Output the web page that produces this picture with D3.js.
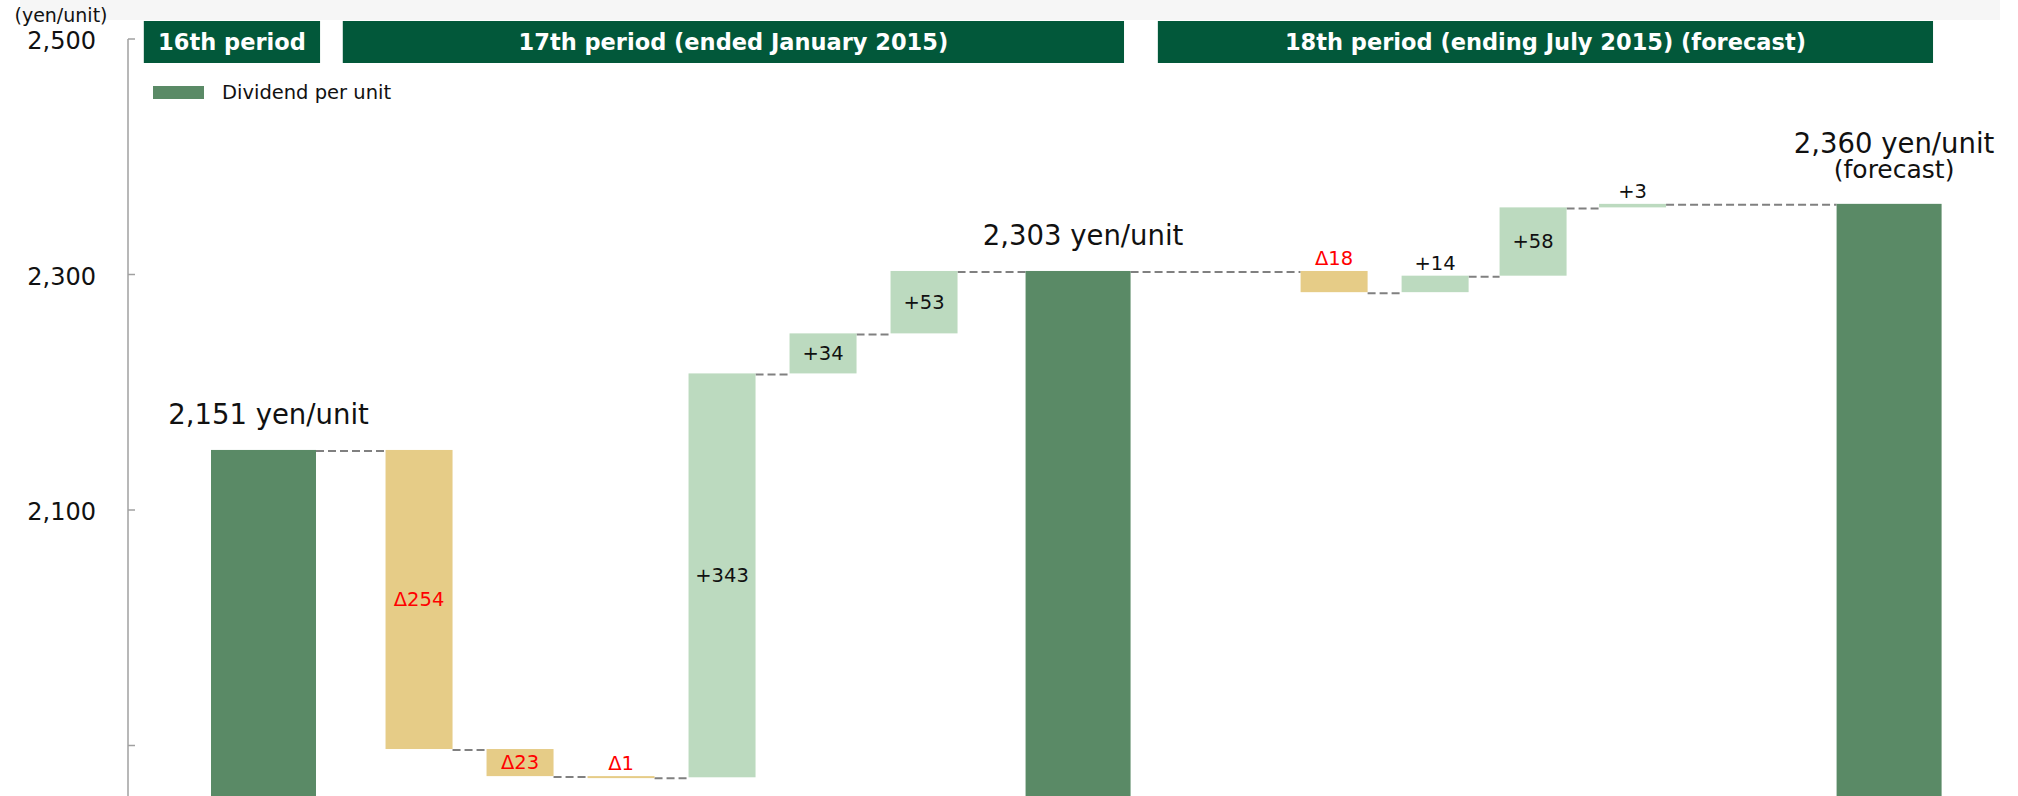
<!DOCTYPE html>
<html>
<head>
<meta charset="utf-8">
<script src="https://cdn.jsdelivr.net/npm/d3@7"></script>
<style>
  html, body { margin: 0; padding: 0; background: #fff; }
  svg { display: block; font-family: "DejaVu Sans", Verdana, sans-serif; }
</style>
</head>
<body>
<div id="chart"></div>
<script>
/* ---- data ---- */
const steps    = ["16th period", "chg 1", "chg 2", "chg 3", "chg 4", "chg 5", "chg 6",
                  "17th period", "chg 7", "chg 8", "chg 9", "chg 10", "18th period"];
const values   = [2151, -254, -23, -1, 343, 34, 53, 2303, -18, 14, 58, 3, 2360];
const isTotal  = [true, false, false, false, false, false, false, true, false, false, false, false, true];
const totalLabels = [["2,151 yen/unit"], ["2,303 yen/unit"], ["2,360 yen/unit", "(forecast)"]];
const periodHeaders = ["16th period", "17th period (ended January 2015)", "18th period (ending July 2015) (forecast)"];
const tickValues = [1900, 2100, 2300, 2500];
const tickLabels = ["", "2,100", "2,300", "2,500"];
const legendLabel = "Dividend per unit";
const unitLabel = "(yen/unit)";

/* ---- layout ---- */
const width = 2018, height = 796;
const C = {
  total: "#5a8a66", down: "#e6cc87", up: "#bcdabf",
  header: "#02583a", red: "#ff0000", dash: "#808080", axis: "#a0a0a0"
};

// spacing between bar slots (half-step units)
const slotGap = [3.08, 2, 2, 2, 2, 2, 3.05, 5.07, 2, 1.94, 1.97, 5.08];
const slots = [0];
slotGap.forEach(g => slots.push(slots[slots.length - 1] + g));

const x = d3.scaleLinear().domain([0, 1]).range([263.5, 314]);
const y = d3.scaleLinear().domain([2100, 2500]).range([510, 39]);
const totalW = 105, deltaW = 67;

/* compute waterfall extents */
let level = 0;
const bars = steps.map((s, i) => {
  const v = values[i];
  let b;
  if (isTotal[i]) {
    b = { key: s, total: true, y0: null, y1: v, value: v };
    level = v;
  } else {
    b = { key: s, total: false, y0: level, y1: level + v, value: v };
    level += v;
  }
  b.cx = x(slots[i]);
  b.w = b.total ? totalW : deltaW;
  b.end = level;
  return b;
});

const svg = d3.select("#chart").append("svg")
  .attr("width", width).attr("height", height);

// faint band at the very top
svg.append("rect")
  .attr("x", 20).attr("y", 0).attr("width", 1980).attr("height", 20)
  .attr("fill", "#f6f6f6");

/* period headers (spans in slot units) */
const headerSpans = [[-2.37, 1.12], [1.57, 17.04], [17.71, 33.06]];
const hdr = svg.append("g");
periodHeaders.forEach((t, i) => {
  const [a, b] = headerSpans[i];
  hdr.append("rect")
    .attr("x", x(a)).attr("y", 21)
    .attr("width", x(b) - x(a)).attr("height", 42)
    .attr("fill", C.header);
  hdr.append("text")
    .attr("x", (x(a) + x(b)) / 2).attr("y", 42)
    .attr("text-anchor", "middle").attr("dominant-baseline", "central")
    .attr("fill", "#fff").attr("font-weight", "bold").attr("font-size", 22.5)
    .text(t);
});

/* y axis */
const axisX = 128;
svg.append("line")
  .attr("x1", axisX).attr("x2", axisX)
  .attr("y1", y(2500)).attr("y2", height)
  .attr("stroke", C.axis).attr("stroke-width", 1.5);

const ticks = svg.append("g");
tickValues.forEach((v, i) => {
  ticks.append("line")
    .attr("x1", axisX).attr("x2", axisX + 7)
    .attr("y1", y(v)).attr("y2", y(v))
    .attr("stroke", C.axis).attr("stroke-width", 1.5);
  if (tickLabels[i]) {
    ticks.append("text")
      .attr("x", 96).attr("y", y(v) + 2)
      .attr("text-anchor", "end").attr("dominant-baseline", "central")
      .attr("font-size", 24).attr("fill", "#111")
      .text(tickLabels[i]);
  }
});

svg.append("text")
  .attr("x", 61).attr("y", 22)
  .attr("text-anchor", "middle")
  .attr("font-size", 19).attr("fill", "#111")
  .text(unitLabel);

/* legend */
svg.append("rect")
  .attr("x", 153).attr("y", 86).attr("width", 51).attr("height", 13)
  .attr("fill", C.total);
svg.append("text")
  .attr("x", 222).attr("y", 99)
  .attr("font-size", 19.5).attr("fill", "#111")
  .text(legendLabel);

/* dashed connectors */
const conn = svg.append("g");
bars.slice(0, -1).forEach((b, i) => {
  const n = bars[i + 1];
  conn.append("line")
    .attr("x1", b.cx + b.w / 2).attr("x2", n.cx - n.w / 2)
    .attr("y1", y(b.end) + 1).attr("y2", y(b.end) + 1)
    .attr("stroke", C.dash).attr("stroke-width", 2)
    .attr("stroke-dasharray", "8,4");
});

/* bars */
svg.append("g")
  .selectAll("rect")
  .data(bars)
  .join("rect")
    .attr("x", d => d.cx - d.w / 2)
    .attr("width", d => d.w)
    .attr("y", d => d.total ? y(d.y1) : y(Math.max(d.y0, d.y1)))
    .attr("height", d => d.total ? height - y(d.y1)
                                 : Math.max(2, Math.abs(y(d.y0) - y(d.y1))))
    .attr("fill", d => d.total ? C.total : (d.value < 0 ? C.down : C.up));

/* delta labels */
const fmtDelta = v => v < 0 ? "\u0394" + (-v) : "+" + v;
const dl = svg.append("g").attr("font-size", 19.5).attr("text-anchor", "middle");
bars.filter(d => !d.total).forEach(d => {
  const top = y(Math.max(d.y0, d.y1));
  const h = Math.abs(y(d.y0) - y(d.y1));
  const t = dl.append("text")
    .attr("x", d.cx)
    .attr("fill", d.value < 0 ? C.red : "#111")
    .text(fmtDelta(d.value));
  if (h > 24) {
    t.attr("y", top + h / 2).attr("dominant-baseline", "central");
  } else {
    t.attr("y", top - 6);
  }
});

/* total labels */
const tl = svg.append("g").attr("text-anchor", "middle").attr("fill", "#111");
bars.filter(d => d.total).forEach((d, k) => {
  const lines = totalLabels[k];
  const top = y(d.y1);
  lines.forEach((ln, j) => {
    const fromBottom = lines.length - 1 - j;
    tl.append("text")
      .attr("x", d.cx + 5)
      .attr("y", top - 26 - fromBottom * 25)
      .attr("font-size", j === 0 ? 27.5 : 25)
      .text(ln);
  });
});
</script>
</body>
</html>
